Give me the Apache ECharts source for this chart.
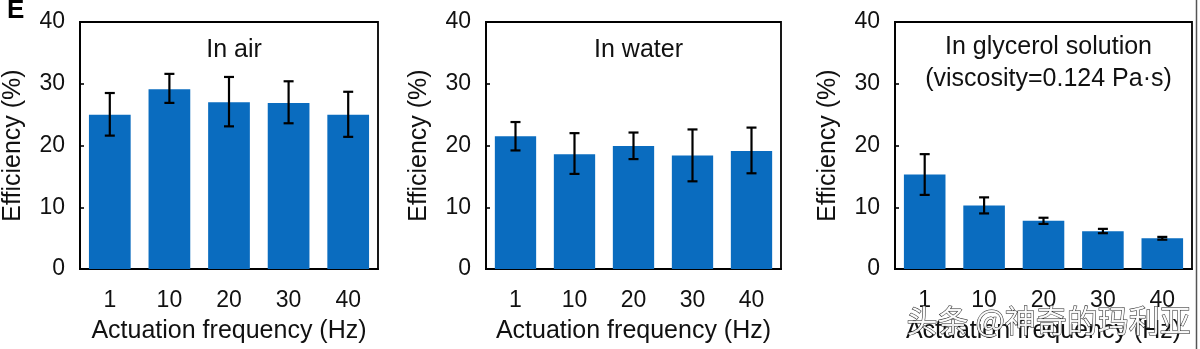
<!DOCTYPE html>
<html>
<head>
<meta charset="utf-8">
<script src="https://cdn.jsdelivr.net/npm/echarts@6/dist/echarts.min.js"></script>
<style>html,body{margin:0;padding:0;background:#fff;}#c{width:1200px;height:349px;}</style>
</head>
<body>
<div id="c"></div>
<script>
var categories = ['1', '10', '20', '30', '40'];
var yTicks = [0, 10, 20, 30, 40];
var panelTitles = ['In air', 'In water', 'In glycerol solution\n(viscosity=0.124 Pa·s)'];
var airMean = [25.0, 29.1, 27.0, 26.9, 25.0];
var airLow = [21.6, 26.9, 23.1, 23.6, 21.4];
var airHigh = [28.5, 31.6, 31.1, 30.4, 28.7];
var waterMean = [21.5, 18.6, 19.9, 18.4, 19.1];
var waterLow = [19.2, 15.4, 17.8, 14.2, 15.5];
var waterHigh = [23.8, 22.0, 22.1, 22.6, 22.9];
var glyMean = [15.3, 10.3, 7.8, 6.1, 5.0];
var glyLow = [12.0, 9.0, 7.3, 5.8, 4.75];
var glyHigh = [18.6, 11.6, 8.3, 6.5, 5.2];

var means = [airMean, waterMean, glyMean];
var lows = [airLow, waterLow, glyLow];
var highs = [airHigh, waterHigh, glyHigh];

var FONT = '"Liberation Sans", Arial, sans-serif';
var BLUE = '#0a6cbf';
var grids = [
  {left: 80, width: 298, top: 22, height: 249},
  {left: 486, width: 295, top: 22, height: 249},
  {left: 895, width: 297, top: 22, height: 249}
];
var titleTops = [29, 29, 26];

var chart = echarts.init(document.getElementById('c'));
var xAxes = [], yAxes = [], series = [], titles = [];
grids.forEach(function (g, i) {
  g.show = true; g.borderColor = '#000'; g.borderWidth = 1.8; g.backgroundColor = 'transparent';
  xAxes.push({
    type: 'category', gridIndex: i, data: categories,
    axisLine: {lineStyle: {color: '#000', width: 1.8}},
    axisTick: {inside: true, alignWithLabel: true, length: 4, lineStyle: {color: '#000', width: 1.6}},
    axisLabel: {fontSize: 23, color: '#111', fontFamily: FONT, margin: 20},
    name: 'Actuation frequency (Hz)', nameLocation: 'middle', nameGap: 50,
    nameTextStyle: {fontSize: 25, color: '#111', fontFamily: FONT}
  });
  yAxes.push({
    type: 'value', gridIndex: i, min: yTicks[0], max: yTicks[yTicks.length - 1], interval: 10,
    axisLine: {show: true, lineStyle: {color: '#000', width: 1.8}},
    axisTick: {show: true, inside: true, length: 4, lineStyle: {color: '#000', width: 1.6}},
    splitLine: {show: false},
    axisLabel: {fontSize: 23, color: '#111', fontFamily: FONT, margin: 15},
    name: 'Efficiency (%)', nameLocation: 'middle', nameGap: 54,
    nameTextStyle: {fontSize: 25, color: '#111', fontFamily: FONT}
  });
  series.push({
    type: 'bar', xAxisIndex: i, yAxisIndex: i, data: means[i],
    barCategoryGap: '30%', itemStyle: {color: BLUE}, silent: true
  });
  var errData = categories.map(function (c, k) { return [k, lows[i][k], highs[i][k]]; });
  series.push({
    type: 'custom', xAxisIndex: i, yAxisIndex: i, data: errData, z: 10, silent: true,
    renderItem: function (params, api) {
      var lo = api.coord([api.value(0), api.value(1)]);
      var hi = api.coord([api.value(0), api.value(2)]);
      var hw = 5;
      var st = {stroke: '#000', lineWidth: 2.2};
      return {type: 'group', children: [
        {type: 'line', shape: {x1: hi[0], y1: hi[1], x2: lo[0], y2: lo[1]}, style: st},
        {type: 'line', shape: {x1: hi[0] - hw, y1: hi[1], x2: hi[0] + hw, y2: hi[1]}, style: st},
        {type: 'line', shape: {x1: lo[0] - hw, y1: lo[1], x2: lo[0] + hw, y2: lo[1]}, style: st}
      ]};
    }
  });
  titles.push({
    text: panelTitles[i], left: g.left + g.width / 2, top: titleTops[i], textAlign: 'center',
    textStyle: {fontSize: 25, fontWeight: 'normal', color: '#111', fontFamily: FONT, lineHeight: 32}
  });
});

chart.setOption({
  animation: false,
  backgroundColor: '#fff',
  title: titles,
  grid: grids,
  xAxis: xAxes,
  yAxis: yAxes,
  series: series,
  graphic: [
    {type: 'text', left: 7, top: -2, style: {text: 'E', fontSize: 26, fontWeight: 'bold', fill: '#000', fontFamily: FONT}},
    {type: 'text', left: 906, top: 304, z: 100, style: {text: '头条 @神奇的玛利亚', fontSize: 31,
      fontFamily: '"Noto Sans CJK SC", sans-serif', fill: 'rgba(255,255,255,0.9)', stroke: '#222', lineWidth: 1}},
    {type: 'line', z: 100, shape: {x1: 1196.5, y1: 0, x2: 1196.5, y2: 349}, style: {stroke: '#555', lineWidth: 1.5}}
  ]
});
</script>
</body>
</html>
